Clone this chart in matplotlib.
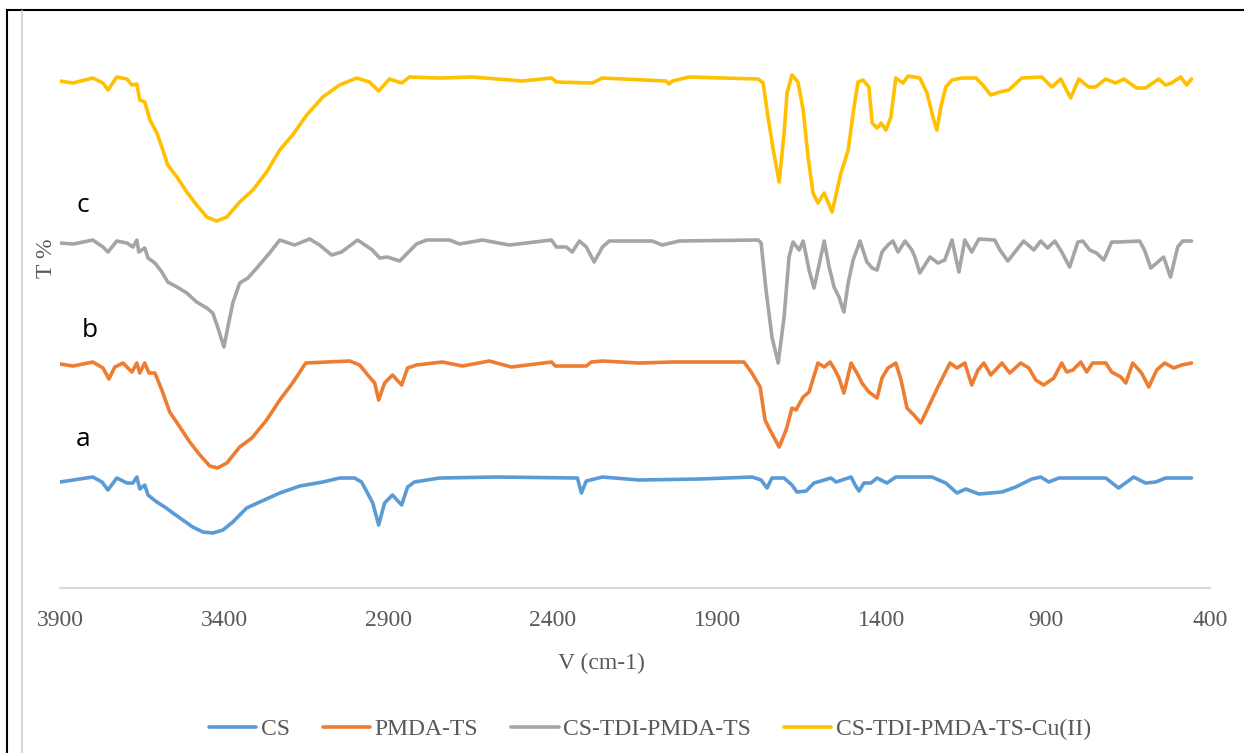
import matplotlib
matplotlib.use('Agg')
import matplotlib.pyplot as plt
from matplotlib.lines import Line2D

plt.rcParams['font.family'] = 'Liberation Serif'

# wavenumber (cm-1) and offset transmittance (arbitrary units)
cs_wn = [3900, 3860, 3800, 3772, 3754, 3727, 3696, 3678, 3666, 3657, 3642, 3632, 3605, 3581, 3556, 3526,
         3496, 3465, 3435, 3404, 3374, 3332, 3292, 3231, 3170, 3100, 3049, 3003, 2982, 2964, 2948, 2930,
         2912, 2888, 2860, 2842, 2821, 2745, 2572, 2325, 2313, 2298, 2249, 2137, 1954, 1793, 1766, 1748,
         1733, 1696, 1672, 1657, 1629, 1605, 1553, 1538, 1492, 1480, 1468, 1453, 1432, 1413, 1383, 1356,
         1246, 1204, 1170, 1143, 1103, 1033, 991, 942, 915, 890, 860, 717, 678, 632, 596, 565, 535, 456]
cs_t = [106, 108, 111, 106, 98, 110, 105, 105, 111, 99, 103, 93, 86, 81, 75, 68,
        61, 56, 55, 58, 66, 80, 86, 95, 102, 106, 110, 110, 106, 95, 85, 63,
        85, 93, 83, 101, 106, 110, 111, 110, 95, 107, 111, 108, 109, 111, 108, 100,
        110, 110, 103, 96, 97, 105, 110, 106, 111, 103, 97, 105, 105, 110, 105, 111,
        111, 105, 95, 99, 94, 96, 101, 109, 111, 106, 110, 110, 100, 111, 105, 106, 110, 110]

pmda_wn = [3900, 3860, 3800, 3769, 3751, 3733, 3708, 3681, 3666, 3657, 3642, 3629, 3611, 3590, 3566, 3535,
           3505, 3474, 3444, 3420, 3392, 3353, 3316, 3271, 3231, 3192, 3152, 3088, 3018, 2988, 2958, 2942,
           2930, 2912, 2888, 2860, 2842, 2815, 2736, 2675, 2593, 2526, 2404, 2392, 2298, 2283, 2249, 2137,
           2036, 1818, 1796, 1769, 1754, 1739, 1711, 1690, 1672, 1660, 1638, 1620, 1593, 1574, 1556, 1541,
           1529, 1514, 1492, 1471, 1459, 1438, 1413, 1398, 1380, 1356, 1340, 1322, 1301, 1280, 1261, 1228,
           1191, 1170, 1146, 1125, 1106, 1088, 1067, 1033, 1009, 976, 951, 930, 906, 875, 851, 836,
           817, 793, 775, 757, 717, 699, 671, 656, 635, 608, 586, 562, 538, 510, 486, 456]
pmda_t = [224, 222, 226, 220, 209, 221, 225, 216, 225, 215, 225, 215, 215, 198, 176, 161,
          146, 133, 122, 120, 125, 141, 150, 168, 188, 205, 225, 226, 227, 223, 211, 205,
          188, 205, 213, 203, 220, 223, 226, 222, 227, 221, 226, 222, 222, 226, 227, 225,
          226, 226, 216, 201, 168, 158, 141, 158, 180, 178, 191, 196, 225, 221, 226, 218,
          210, 195, 225, 213, 205, 196, 190, 210, 220, 225, 208, 180, 173, 165, 178, 201,
          225, 220, 225, 203, 218, 225, 213, 225, 215, 225, 220, 208, 203, 210, 225, 216,
          218, 226, 216, 225, 225, 216, 211, 205, 225, 215, 201, 218, 225, 220, 223, 225]

tdi_wn = [3900, 3860, 3800, 3769, 3754, 3727, 3696, 3678, 3666, 3660, 3642, 3632, 3611, 3590, 3572, 3544,
          3514, 3484, 3453, 3435, 3420, 3401, 3389, 3374, 3353, 3328, 3301, 3262, 3231, 3186, 3140, 3110,
          3073, 3043, 2994, 2949, 2927, 2903, 2866, 2815, 2784, 2714, 2684, 2614, 2532, 2404, 2389, 2359,
          2341, 2319, 2298, 2274, 2249, 2228, 2097, 2067, 2015, 1775, 1766, 1751, 1733, 1714, 1696, 1681,
          1669, 1650, 1638, 1620, 1605, 1593, 1574, 1559, 1544, 1529, 1514, 1501, 1486, 1465, 1444, 1428,
          1413, 1398, 1380, 1365, 1349, 1328, 1307, 1298, 1283, 1252, 1228, 1207, 1185, 1164, 1146, 1125,
          1103, 1055, 1039, 1015, 967, 936, 915, 894, 872, 851, 827, 802, 787, 766, 745, 723,
          699, 678, 614, 599, 580, 562, 541, 520, 498, 483, 456]
tdi_t = [345, 344, 348, 341, 336, 347, 345, 341, 348, 336, 340, 330, 325, 316, 306, 301,
         295, 286, 280, 275, 261, 241, 261, 285, 305, 310, 320, 335, 348, 343, 349, 343,
         333, 336, 348, 338, 330, 331, 327, 344, 348, 348, 344, 348, 343, 348, 341, 341,
         336, 347, 341, 326, 341, 347, 347, 343, 347, 348, 345, 298, 251, 225, 271, 331,
         346, 338, 347, 318, 300, 318, 347, 321, 301, 291, 276, 305, 328, 347, 326, 320,
         318, 336, 343, 347, 336, 347, 338, 331, 315, 331, 325, 328, 348, 316, 348, 336,
         349, 348, 338, 327, 347, 338, 347, 340, 347, 336, 321, 346, 347, 338, 335, 328,
         346, 346, 347, 338, 320, 325, 331, 311, 341, 347, 347]

cu_wn = [3900, 3860, 3800, 3769, 3754, 3727, 3696, 3681, 3666, 3657, 3642, 3626, 3605, 3590, 3572, 3544,
         3514, 3484, 3453, 3423, 3392, 3353, 3313, 3271, 3231, 3192, 3149, 3100, 3049, 2997, 2958, 2930,
         2897, 2860, 2836, 2745, 2645, 2493, 2404, 2389, 2280, 2249, 2055, 2046, 2036, 1985, 1775, 1760,
         1745, 1729, 1711, 1696, 1687, 1672, 1654, 1638, 1623, 1608, 1593, 1574, 1550, 1523, 1501, 1486,
         1471, 1456, 1438, 1428, 1413, 1401, 1386, 1371, 1356, 1334, 1319, 1283, 1261, 1243, 1231, 1219,
         1204, 1185, 1155, 1112, 1091, 1067, 1040, 1012, 973, 912, 881, 854, 824, 799, 769, 748,
         717, 687, 662, 623, 596, 556, 535, 517, 489, 471, 456]
cu_t = [507, 505, 510, 505, 498, 511, 509, 503, 504, 488, 486, 468, 455, 441, 423, 411,
        396, 383, 371, 367, 371, 386, 398, 416, 438, 453, 473, 491, 503, 510, 506, 497,
        509, 505, 511, 510, 511, 507, 510, 506, 505, 510, 507, 504, 507, 511, 509, 505,
        471, 438, 406, 455, 495, 513, 506, 478, 431, 395, 385, 395, 376, 415, 438, 475,
        506, 508, 501, 465, 460, 465, 458, 471, 510, 505, 512, 510, 495, 471, 458, 481,
        501, 508, 510, 510, 503, 493, 496, 498, 510, 511, 501, 509, 490, 509, 501, 501,
        509, 505, 509, 500, 500, 509, 503, 505, 511, 503, 509]

series = [
    ('CS', cs_wn, cs_t, '#5B9BD5'),
    ('PMDA-TS', pmda_wn, pmda_t, '#ED7D31'),
    ('CS-TDI-PMDA-TS', tdi_wn, tdi_t, '#A5A5A5'),
    ('CS-TDI-PMDA-TS-Cu(II)', cu_wn, cu_t, '#FFC000'),
]
curve_labels = [('a', 3830, 149), ('b', 3809, 258), ('c', 3830, 383)]

fig = plt.figure(figsize=(12.44, 7.53), dpi=100)
ax = fig.add_axes([0.0482, 0.2191, 0.9244, 0.7437])

for name, wn, t, color in series:
    ax.plot(wn, t, color=color, lw=2.6, label=name,
            solid_joinstyle='round', solid_capstyle='round')

for lab, x, y in curve_labels:
    ax.text(x, y, lab, fontsize=19, family='Open Sans', color='black',
            ha='center', va='center')

ax.set_xlim(3900, 400)
ax.set_ylim(0, 560)
ax.set_xticks(range(3900, 399, -500))
ax.set_yticks([])
ax.tick_params(axis='x', length=0, pad=16, labelsize=17, labelcolor='#595959')
for side in ['left', 'right', 'top']:
    ax.spines[side].set_visible(False)
ax.spines['bottom'].set_color('#D9D9D9')
ax.spines['bottom'].set_linewidth(1.5)

ax.set_xlabel('V (cm-1)', fontsize=17, color='#595959')
ax.xaxis.set_label_coords(0.471, -0.115)
fig.text(47 / 1244, 1 - 258 / 753, 'T %', rotation=90, fontsize=17,
         color='#595959', ha='center', va='center')

fig.legend(loc='center', bbox_to_anchor=(650 / 1244, 1 - 729 / 753), ncol=4,
           frameon=False, fontsize=17, labelcolor='#595959', handlelength=2.0,
           handletextpad=0.2, columnspacing=1.4)

# outer frame lines of the screenshot
fig.add_artist(Line2D([7 / 1244, 1], [1 - 10 / 753, 1 - 10 / 753], color='black', lw=1.5,
                      transform=fig.transFigure))
fig.add_artist(Line2D([7 / 1244, 7 / 1244], [0, 1 - 10 / 753], color='black', lw=1.5,
                      transform=fig.transFigure))
fig.add_artist(Line2D([22 / 1244, 22 / 1244], [0, 1 - 11 / 753], color='#D0D0D0', lw=1.2,
                      transform=fig.transFigure))

plt.savefig('out.png', dpi=100)
